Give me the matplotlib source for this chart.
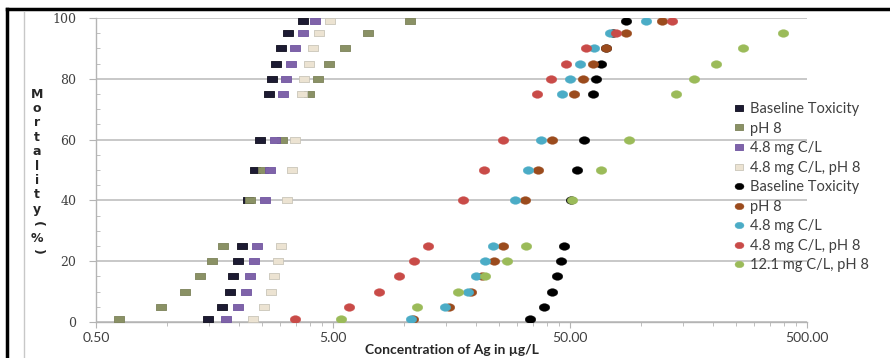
import numpy as np
import matplotlib.pyplot as plt
from matplotlib.lines import Line2D
from matplotlib.ticker import FixedLocator, MultipleLocator, NullFormatter

plt.rcParams['font.family'] = ['Lato', 'DejaVu Sans']

# mortality levels (%) shared by every series
mortality = [1, 5, 10, 15, 20, 25, 40, 50, 60, 75, 80, 85, 90, 95, 99]

# squares: first test set (Ag in ug/L)
sq_baseline = [1.49, 1.70, 1.83, 1.90, 1.99, 2.06, 2.19, 2.34, 2.46, 2.69, 2.76, 2.87, 3.01, 3.24, 3.73]
sq_ph8 = [0.625, 0.94, 1.19, 1.37, 1.54, 1.71, 2.23, 2.54, 3.06, 3.96, 4.31, 4.83, 5.62, 7.05, 10.6]
sq_c48 = [1.76, 1.99, 2.14, 2.23, 2.31, 2.40, 2.58, 2.71, 2.85, 3.09, 3.17, 3.32, 3.46, 3.73, 4.20]
sq_c48_ph8 = [2.29, 2.57, 2.73, 2.83, 2.92, 3.01, 3.19, 3.35, 3.46, 3.70, 3.78, 3.95, 4.11, 4.36, 4.86]

# circles: second test set
ci_baseline = [33.9, 39.0, 41.9, 44.2, 45.8, 47.2, 50.5, 53.7, 57.3, 62.3, 64.2, 67.4, 70.9, 75.9, 86.2]
ci_ph8 = [10.9, 15.5, 19.1, 21.3, 23.9, 26.0, 32.3, 36.8, 41.9, 52.1, 56.6, 62.3, 70.7, 85.9, 122.0]
ci_c48 = [10.7, 14.9, 18.5, 20.1, 22.0, 23.7, 29.3, 33.2, 37.6, 46.1, 50.0, 55.1, 63.3, 73.8, 104.3]
ci_c48_ph8 = [3.46, 5.84, 7.82, 9.50, 11.0, 12.6, 17.6, 21.7, 26.2, 36.4, 41.6, 48.1, 58.4, 77.9, 134.3]
ci_c121_ph8 = [5.39, 11.3, 16.8, 22.0, 27.0, 32.5, 51.1, 67.4, 88.7, 139.6, 166.8, 205.9, 269.3, 397.2, np.nan]

xticks = [0.5, 5, 50, 500]
xticklabels = ['0.50', '5.00', '50.00', '500.00']

# marker shapes (wide boxes / ellipses like the excel export)
rect = [(-1, -0.6), (1, -0.6), (1, 0.6), (-1, 0.6), (-1, -0.6)]
t = np.linspace(0, 2 * np.pi, 40)
ell = list(zip(np.cos(t), 0.72 * np.sin(t)))

fig = plt.figure(figsize=(8.9, 3.58), dpi=100)
ax = fig.add_axes([96 / 890, 1 - 322 / 358, (807 - 96) / 890, (322 - 18) / 358])

squares = [
    (sq_baseline, 'Baseline Toxicity', '#1d1b33', '#0e0d1c'),
    (sq_ph8, 'pH 8', '#8a9165', '#7c8259'),
    (sq_c48, '4.8 mg C/L', '#7f63a9', '#7055a0'),
    (sq_c48_ph8, '4.8 mg C/L, pH 8', '#ece3d2', '#c9c5b9'),
]
for vals, lab, fc, ec in squares:
    ax.plot(vals, mortality, ls='none', marker=rect, ms=7.4, mfc=fc, mec=ec, mew=0.6,
            label=lab, zorder=3)

circles = [
    (ci_baseline, 'Baseline Toxicity', '#000000'),
    (ci_ph8, 'pH 8', '#9b4b1d'),
    (ci_c48, '4.8 mg C/L', '#4bacc6'),
    (ci_c48_ph8, '4.8 mg C/L, pH 8', '#c94b48'),
    (ci_c121_ph8, '12.1 mg C/L, pH 8', '#9bbb59'),
]
for vals, lab, c in circles:
    ax.plot(vals, mortality, ls='none', marker=ell, ms=7.6, mfc=c, mec=c, mew=0.3,
            label=lab, zorder=3)

ax.set_xscale('log')
ax.set_xlim(0.5, 500)
ax.set_ylim(0, 100)
ax.set_xticks(xticks)
ax.set_xticklabels(xticklabels)
minor = [0.5 * k * 10 ** n for n in range(3) for k in range(2, 10)]
ax.xaxis.set_minor_locator(FixedLocator(minor))
ax.xaxis.set_minor_formatter(NullFormatter())
ax.set_yticks([0, 20, 40, 60, 80, 100])
ax.yaxis.set_minor_locator(MultipleLocator(5))

ax.yaxis.grid(True, color='#c4c4c4', lw=1.3)
ax.set_axisbelow(True)
for s in ['top', 'right']:
    ax.spines[s].set_visible(False)
for s in ['left', 'bottom']:
    ax.spines[s].set_color('#b4b4b4')
    ax.spines[s].set_linewidth(1.0)

ax.tick_params(axis='x', which='major', direction='out', length=4, color='#b4b4b4',
               labelsize=10, labelcolor='#404040', pad=3)
ax.tick_params(axis='x', which='minor', direction='out', length=3, color='#b4b4b4')
ax.tick_params(axis='y', which='major', direction='out', length=5, color='#b4b4b4',
               labelsize=9, labelcolor='#404040', pad=9)
ax.tick_params(axis='y', which='minor', direction='in', length=3, color='#b4b4b4')
for lbl in ax.get_yticklabels():
    lbl.set_family('DejaVu Serif')

# x axis title, placed in figure pixels so it sits just above the bottom edge
fig.text(451.5 / 890, 1 - 350 / 358, 'Concentration of Ag in µg/L', ha='center',
         va='center', fontsize=10, fontweight='bold', color='#262626')

# stacked y label like excel's vertical text
ylab = 'Mortality(%)'
for i, ch in enumerate(ylab):
    rot = -90 if ch in '()' else 0
    fig.text(37 / 890, 1 - (94 + i * 14.4) / 358, ch, ha='center', va='center',
             fontsize=9, fontweight='bold', color='#262626', rotation=rot,
             family='DejaVu Sans')

ax.legend(loc='upper left', bbox_to_anchor=(733 / 890, 1 - 102 / 358),
          bbox_transform=fig.transFigure, frameon=False, fontsize=10.5,
          labelspacing=0.38, handlelength=0.8, handletextpad=0.35, borderpad=0,
          borderaxespad=0, markerscale=0.85, labelcolor='#404040')

# page frame around the exported picture
fig.add_artist(Line2D([7 / 890, 1], [1 - 9 / 358] * 2, transform=fig.transFigure,
                      color='black', lw=2.5))
fig.add_artist(Line2D([7 / 890] * 2, [0, 1 - 9 / 358], transform=fig.transFigure,
                      color='black', lw=2.5))
fig.add_artist(Line2D([24 / 890] * 2, [0, 1 - 12 / 358], transform=fig.transFigure,
                      color='#c8c8c8', lw=1.0))

fig.savefig('out.png', dpi=100)
